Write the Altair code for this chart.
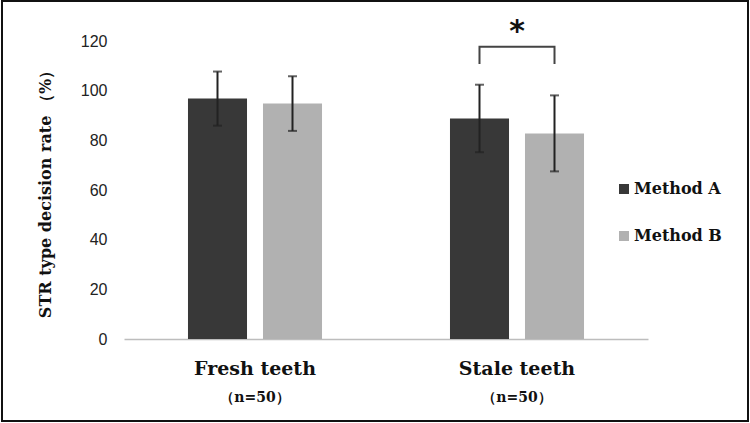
import altair as alt
import pandas as pd

# Sample groups and methods
groups = ["Fresh teeth", "Stale teeth"]
methods = ["Method A", "Method B"]
n_counts = [50, 50]

# Mean decision rate (%) and standard deviation per group
mean_a = [96.8, 88.8]
mean_b = [94.8, 82.8]
sd_a = [10.9, 13.6]
sd_b = [11.0, 15.3]

# Significance bracket between Method A and Method B for stale teeth
bracket_group = "Stale teeth"
bracket_low = 110.7
bracket_high = 117.7
star_y = 120.2

colors = ["#383838", "#b1b1b1"]
serif = "DejaVu Serif"

rows = []
for i, g in enumerate(groups):
    rows.append({"group": g, "method": methods[0], "mean": mean_a[i], "sd": sd_a[i]})
    rows.append({"group": g, "method": methods[1], "mean": mean_b[i], "sd": sd_b[i]})
df = pd.DataFrame(rows)
df["lo"] = df["mean"] - df["sd"]
df["hi"] = df["mean"] + df["sd"]

n_df = pd.DataFrame({"group": groups, "label": [f"（n={n}）" for n in n_counts]})

bracket_df = pd.DataFrame({
    "group": [bracket_group] * 4,
    "method": [methods[0], methods[0], methods[1], methods[1]],
    "y": [bracket_low, bracket_high, bracket_high, bracket_low],
    "step": [0, 1, 2, 3],
})
star_df = pd.DataFrame({"group": [bracket_group], "y": [star_y], "t": ["*"]})

W, H = 524, 298

x_enc = alt.X(
    "group:N",
    scale=alt.Scale(domain=groups, paddingInner=0, paddingOuter=0),
    axis=alt.Axis(
        title=None, labelAngle=0, ticks=False, domainColor="#bdbdbd", domainWidth=1.5,
        labelFont=serif, labelFontWeight="bold", labelFontSize=19, labelColor="#111",
        labelPadding=20,
    ),
)
xoff = alt.XOffset(
    "method:N",
    scale=alt.Scale(domain=methods, paddingInner=0.213, paddingOuter=0.853),
)
y_scale = alt.Scale(domain=[0, 120], nice=False)
y_enc = alt.Y(
    "mean:Q",
    scale=y_scale,
    axis=alt.Axis(
        values=[0, 20, 40, 60, 80, 100, 120], domain=False, ticks=False, grid=False,
        labelFont="Liberation Sans", labelFontSize=16, labelColor="#222", labelPadding=17,
        title="STR type decision rate （%）", titleFont=serif, titleFontSize=16,
        titleFontWeight="bold", titleColor="#111", titlePadding=27,
    ),
)

base = alt.Chart(df)

bars = base.mark_bar().encode(
    x=x_enc,
    xOffset=xoff,
    y=y_enc,
    color=alt.Color(
        "method:N",
        scale=alt.Scale(domain=methods, range=colors),
        legend=alt.Legend(
            title=None, orient="none", legendX=492, legendY=140,
            symbolType="square", symbolSize=100, symbolStrokeWidth=0,
            labelFont=serif, labelFontWeight="bold", labelFontSize=16, labelColor="#111",
            rowPadding=31, labelOffset=2,
        ),
    ),
)

err = base.mark_rule(color="#222", strokeWidth=2).encode(
    x="group:N", xOffset="method:N", y="lo:Q", y2="hi:Q"
)
cap_hi = base.mark_tick(color="#222", size=9, thickness=2).encode(
    x="group:N", xOffset="method:N", y="hi:Q"
)
cap_lo = base.mark_tick(color="#222", size=9, thickness=2).encode(
    x="group:N", xOffset="method:N", y="lo:Q"
)

bracket = alt.Chart(bracket_df).mark_line(color="#444", strokeWidth=2).encode(
    x="group:N", xOffset="method:N", y="y:Q", order="step:Q"
)
star = alt.Chart(star_df).mark_text(
    font="DejaVu Sans", fontWeight="bold", fontSize=30, baseline="alphabetic", color="#111"
).encode(x="group:N", y="y:Q", text="t:N")

n_text = alt.Chart(n_df).mark_text(
    font=serif, fontWeight="bold", fontSize=14, baseline="middle", color="#111"
).encode(x="group:N", y=alt.value(H + 59), text="label:N")

frame = alt.Chart(pd.DataFrame({"k": [0]})).mark_rect(
    fill=None, stroke="#111", strokeWidth=2
).encode(
    x=alt.value(-122), x2=alt.value(W + 100), y=alt.value(-40), y2=alt.value(H + 82)
)

chart = (
    alt.layer(bars, err, cap_hi, cap_lo, bracket, star, n_text, frame)
    .resolve_scale(x="shared")
    .properties(
        width=W, height=H,
        autosize=alt.AutoSizeParams(type="none"),
        padding={"left": 124, "top": 41, "right": 102, "bottom": 84},
        background="white",
    )
    .configure_view(stroke=None)
)

chart.save("out.html", embed_options={"renderer": "svg", "actions": False})
